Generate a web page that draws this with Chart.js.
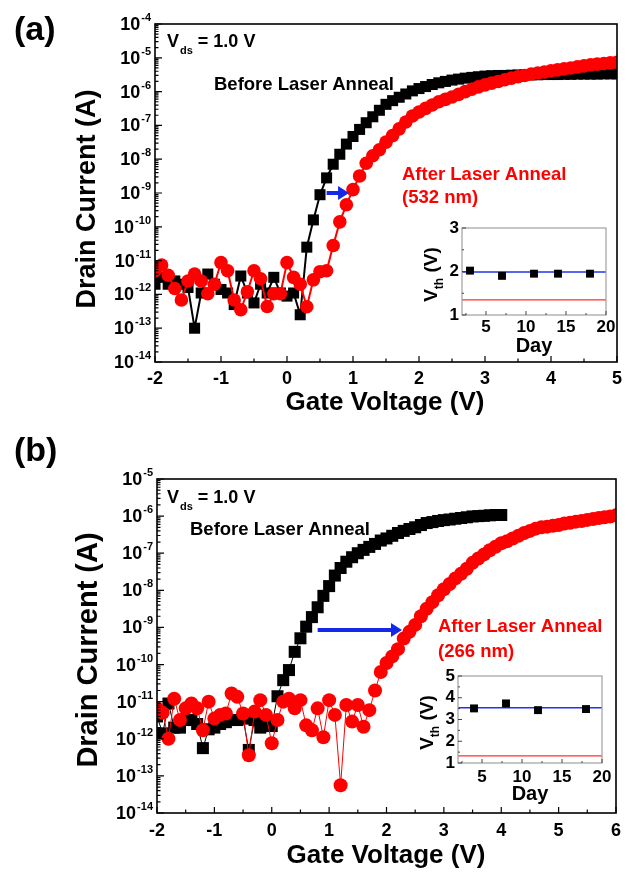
<!DOCTYPE html>
<html>
<head>
<meta charset="utf-8">
<title>Drain current vs gate voltage</title>
<script src="https://cdn.jsdelivr.net/npm/chart.js@4.4.1/dist/chart.umd.min.js"></script>
<style>
  body { margin: 0; background: #fff; }
  #page { position: relative; width: 631px; height: 872px; overflow: hidden; background: #fff; }
  canvas { position: absolute; }
</style>
</head>
<body>
<div id="page">
  <canvas id="mainA" width="631" height="420" style="left:0px;top:0px"></canvas>
  <canvas id="insetA" width="200" height="150" style="left:420px;top:215px"></canvas>
  <canvas id="mainB" width="631" height="452" style="left:0px;top:420px"></canvas>
  <canvas id="insetB" width="200" height="160" style="left:418px;top:664px"></canvas>
</div>
<script>
// ---- panel (a): 532 nm ----
const vgA = [-2, -1.9, -1.8, -1.7, -1.6, -1.5, -1.4, -1.3, -1.2, -1.1, -1, -0.9, -0.8, -0.7, -0.6, -0.5, -0.4, -0.3, -0.2, -0.1,
  0, 0.1, 0.2, 0.3, 0.4, 0.5, 0.6, 0.7, 0.8, 0.9, 1, 1.1, 1.2, 1.3, 1.4, 1.5, 1.6, 1.7, 1.8, 1.9,
  2, 2.1, 2.2, 2.3, 2.4, 2.5, 2.6, 2.7, 2.8, 2.9, 3, 3.1, 3.2, 3.3, 3.4, 3.5, 3.6, 3.7, 3.8, 3.9,
  4, 4.1, 4.2, 4.3, 4.4, 4.5, 4.6, 4.7, 4.8, 4.9, 5];
const beforeA = [2.0e-12, 3.2e-12, 2.0e-12, 2.5e-12, 2.0e-12, 1.6e-12, 1.0e-13, 1.1e-12, 4.0e-12, 2.0e-12,
  1.4e-12, 1.1e-12, 5.0e-13, 3.5e-12, 1.1e-12, 5.6e-13, 2.0e-12, 1.1e-12, 3.2e-12, 1.1e-12,
  8.9e-13, 1.1e-12, 2.5e-13, 2.5e-11, 1.6e-10, 8.9e-10, 2.8e-9, 7.1e-9, 1.4e-8, 2.8e-8,
  4.7e-8, 7.6e-8, 1.2e-7, 1.8e-7, 2.8e-7, 4.2e-7, 5.4e-7, 6.8e-7, 8.5e-7, 1.05e-6,
  1.23e-6, 1.41e-6, 1.62e-6, 1.82e-6, 2.0e-6, 2.19e-6, 2.34e-6, 2.5e-6, 2.63e-6, 2.75e-6,
  2.88e-6, 2.95e-6, 3.0e-6, 3.0e-6, 3.05e-6, 3.1e-6, 3.1e-6, 3.15e-6, 3.15e-6, 3.2e-6,
  3.2e-6, 3.2e-6, 3.25e-6, 3.25e-6, 3.3e-6, 3.3e-6, 3.3e-6, 3.3e-6, 3.35e-6, 3.35e-6, 3.35e-6];
const afterA = [5.0e-12, 7.4e-12, 3.7e-12, 1.5e-12, 6.8e-13, 2.5e-12, 4.0e-12, 2.5e-12, 1.05e-12, 2.0e-12,
  8.7e-12, 5.0e-12, 6.8e-13, 3.5e-13, 1.2e-12, 5.0e-12, 2.9e-12, 4.4e-13, 1.05e-12, 1.05e-12,
  8.7e-12, 3.2e-12, 2.0e-12, 4.3e-13, 2.7e-12, 4.7e-12, 5.0e-12, 2.8e-11, 1.4e-10, 4.5e-10,
  1.26e-9, 3.2e-9, 7.6e-9, 1.26e-8, 1.9e-8, 3.2e-8, 5.0e-8, 7.9e-8, 1.26e-7, 1.9e-7,
  2.5e-7, 3.2e-7, 4.0e-7, 5.0e-7, 5.9e-7, 6.9e-7, 8.3e-7, 1.0e-6, 1.17e-6, 1.38e-6,
  1.58e-6, 1.78e-6, 2.0e-6, 2.24e-6, 2.5e-6, 2.75e-6, 3.0e-6, 3.3e-6, 3.55e-6, 3.8e-6,
  4.1e-6, 4.4e-6, 4.7e-6, 5.0e-6, 5.4e-6, 5.75e-6, 6.2e-6, 6.5e-6, 6.8e-6, 7.1e-6, 7.4e-6];
const xTicksA = [-2, -1, 0, 1, 2, 3, 4, 5];
const yTicksA = [1e-14, 1e-13, 1e-12, 1e-11, 1e-10, 1e-9, 1e-8, 1e-7, 1e-6, 1e-5, 1e-4];

// inset (a): threshold voltage vs day
const daysA = [3, 7, 11, 14, 18];
const vthA = [2.02, 1.9, 1.95, 1.95, 1.95];
const vthLinesA = [1.99, 1.35]; // blue, red
const dayTicks = [5, 10, 15, 20];
const vthTicksA = [1, 2, 3];

// ---- panel (b): 266 nm ----
const vgB = [-2, -1.9, -1.8, -1.7, -1.6, -1.5, -1.4, -1.3, -1.2, -1.1, -1, -0.9, -0.8, -0.7, -0.6, -0.5, -0.4, -0.3, -0.2, -0.1,
  0, 0.1, 0.2, 0.3, 0.4, 0.5, 0.6, 0.7, 0.8, 0.9, 1, 1.1, 1.2, 1.3, 1.4, 1.5, 1.6, 1.7, 1.8, 1.9,
  2, 2.1, 2.2, 2.3, 2.4, 2.5, 2.6, 2.7, 2.8, 2.9, 3, 3.1, 3.2, 3.3, 3.4, 3.5, 3.6, 3.7, 3.8, 3.9,
  4, 4.1, 4.2, 4.3, 4.4, 4.5, 4.6, 4.7, 4.8, 4.9, 5, 5.1, 5.2, 5.3, 5.4, 5.5, 5.6, 5.7, 5.8, 5.9, 6];
const beforeB = [4.0e-12, 1.4e-12, 8.9e-12, 2.0e-12, 2.0e-12, 3.2e-12, 3.2e-12, 2.5e-12, 5.6e-13, 1.8e-12,
  2.0e-12, 2.5e-12, 2.8e-12, 3.2e-12, 3.2e-12, 3.5e-12, 5.0e-13, 3.2e-12, 2.0e-12, 2.5e-12,
  2.2e-12, 1.4e-11, 3.8e-11, 7.1e-11, 2.2e-10, 5.1e-10, 1.05e-9, 1.9e-9, 3.5e-9, 7.1e-9,
  1.3e-8, 2.5e-8, 4.0e-8, 5.9e-8, 7.8e-8, 1.0e-7, 1.23e-7, 1.48e-7, 1.78e-7, 2.2e-7,
  2.5e-7, 2.95e-7, 3.5e-7, 4.0e-7, 4.5e-7, 5.0e-7, 5.75e-7, 6.5e-7, 6.9e-7, 7.4e-7,
  7.8e-7, 8.1e-7, 8.5e-7, 8.9e-7, 9.3e-7, 9.8e-7, 1.0e-6, 1.02e-6, 1.05e-6, 1.07e-6, 1.07e-6];
const afterB = [6.6e-12, 5.0e-12, 1.0e-12, 1.2e-11, 3.2e-12, 6.6e-12, 8.9e-12, 6.6e-12, 1.7e-12, 1.0e-11,
  3.5e-12, 4.4e-12, 4.8e-12, 1.66e-11, 1.35e-11, 4.8e-12, 3.6e-13, 5.4e-12, 1.1e-11, 4.4e-12,
  7.6e-13, 3.2e-12, 1.0e-11, 1.2e-11, 6.6e-12, 1.1e-11, 2.3e-12, 1.7e-12, 6.6e-12, 1.1e-12,
  1.1e-11, 4.4e-12, 5.6e-14, 8.1e-12, 2.9e-12, 8.1e-12, 2.1e-12, 5.9e-12, 2.0e-11, 6.3e-11,
  1.1e-10, 1.66e-10, 2.6e-10, 5.0e-10, 7.6e-10, 1.17e-9, 2.0e-9, 3.2e-9, 4.8e-9, 7.4e-9,
  1.07e-8, 1.48e-8, 2.1e-8, 2.8e-8, 3.8e-8, 5.5e-8, 7.2e-8, 9.3e-8, 1.2e-7, 1.5e-7,
  1.86e-7, 2.1e-7, 2.5e-7, 2.95e-7, 3.5e-7, 4.0e-7, 4.6e-7, 5.0e-7, 5.2e-7, 5.5e-7,
  5.75e-7, 6.3e-7, 6.6e-7, 7.1e-7, 7.4e-7, 7.9e-7, 8.3e-7, 8.9e-7, 9.3e-7, 9.8e-7, 1.05e-6];
const xTicksB = [-2, -1, 0, 1, 2, 3, 4, 5, 6];
const yTicksB = [1e-14, 1e-13, 1e-12, 1e-11, 1e-10, 1e-9, 1e-8, 1e-7, 1e-6, 1e-5];

// inset (b)
const daysB = [4, 8, 12, 18];
const vthB = [3.51, 3.74, 3.43, 3.48];
const vthLinesB = [3.54, 1.33];
const vthTicksB = [1, 2, 3, 4, 5];


const FONT = '"Liberation Sans", Arial, Helvetica, sans-serif';
function f(size) {
  return 'bold ' + size + 'px ' + FONT;
}

function pts(xs, ys) {
  return ys.map((v, i) => ({ x: xs[i], y: v }));
}

// "10" with a raised exponent, right aligned at `right`
function drawPow10(ctx, right, py, exp) {
  ctx.font = f(18);
  let w1 = ctx.measureText('10').width;
  ctx.font = f(11);
  let w2 = ctx.measureText(exp).width;
  let x0 = right - w1 - w2 - 1;
  ctx.textAlign = 'left';
  ctx.textBaseline = 'middle';
  ctx.font = f(18);
  ctx.fillText('10', x0, py + 1);
  ctx.font = f(11);
  ctx.fillText(exp, x0 + w1 + 1, py - 6);
}

function drawSub(ctx, x, base, big, small, main, sub, rest, gap) {
  ctx.textAlign = 'left';
  ctx.textBaseline = 'alphabetic';
  ctx.font = f(big);
  ctx.fillText(main, x, base);
  let w = ctx.measureText(main).width;
  ctx.font = f(small);
  ctx.fillText(sub, x + w + 1, base + 7);
  let ws = ctx.measureText(sub).width;
  ctx.font = f(big);
  ctx.fillText(rest, x + w + 1 + ws + gap, base);
}

function decorMain(opt) {
  return {
    id: 'decorMain',
    afterDatasetsDraw(chart) {
      let { ctx, chartArea: a, scales: { x, y } } = chart;
      ctx.save();

      // blue shift arrow
      let ax0 = x.getPixelForValue(opt.arrow[0]);
      let ax1 = x.getPixelForValue(opt.arrow[1]);
      let ay = y.getPixelForValue(opt.arrow[2]);
      ctx.strokeStyle = '#1428e6';
      ctx.fillStyle = '#1428e6';
      ctx.lineWidth = 4;
      ctx.beginPath();
      ctx.moveTo(ax0, ay);
      ctx.lineTo(ax1 - 9, ay);
      ctx.stroke();
      ctx.beginPath();
      ctx.moveTo(ax1, ay);
      ctx.lineTo(ax1 - 11, ay - 7);
      ctx.lineTo(ax1 - 11, ay + 7);
      ctx.closePath();
      ctx.fill();

      // frame
      ctx.strokeStyle = '#000';
      ctx.lineWidth = 1.6;
      ctx.strokeRect(a.left, a.top, a.right - a.left, a.bottom - a.top);

      // inward ticks
      ctx.lineWidth = 1.2;
      ctx.beginPath();
      opt.yTicks.forEach((v, i) => {
        let py = y.getPixelForValue(v);
        ctx.moveTo(a.left, py);
        ctx.lineTo(a.left + 7, py);
        if (i < opt.yTicks.length - 1) {
          for (let m = 2; m < 10; m++) {
            let pm = y.getPixelForValue(v * m);
            ctx.moveTo(a.left, pm);
            ctx.lineTo(a.left + 3.5, pm);
          }
        }
      });
      opt.xTicks.forEach((v, i) => {
        let px = x.getPixelForValue(v);
        ctx.moveTo(px, a.bottom);
        ctx.lineTo(px, a.bottom - 6);
        if (i < opt.xTicks.length - 1) {
          let ph = x.getPixelForValue(v + 0.5);
          ctx.moveTo(ph, a.bottom);
          ctx.lineTo(ph, a.bottom - 3.5);
        }
      });
      ctx.stroke();

      // tick labels
      ctx.fillStyle = '#000';
      opt.yTicks.forEach(v => {
        drawPow10(ctx, a.left - 4, y.getPixelForValue(v), String(Math.round(Math.log10(v))));
      });
      ctx.font = f(18);
      ctx.textAlign = 'center';
      ctx.textBaseline = 'middle';
      opt.xTicks.forEach(v => {
        ctx.fillText(String(v), x.getPixelForValue(v), a.bottom + opt.xLabGap);
      });

      // axis titles
      ctx.font = f(26);
      ctx.fillText('Gate Voltage (V)', opt.xTitle[0], opt.xTitle[1]);
      ctx.save();
      ctx.translate(opt.yTitle[0], opt.yTitle[1]);
      ctx.rotate(-Math.PI / 2);
      ctx.font = f(opt.yTitle[2]);
      ctx.fillText('Drain Current (A)', 0, 0);
      ctx.restore();

      // panel letter
      ctx.textAlign = 'left';
      ctx.font = f(34);
      ctx.fillText(opt.letter[0], 14, opt.letter[1]);

      // Vds note
      drawSub(ctx, opt.vds[0], opt.vds[1], 18, 11, 'V', 'ds', '= 1.0 V', 5);

      // curve labels
      ctx.textBaseline = 'middle';
      ctx.font = f(18.5);
      opt.labels.forEach(l => {
        ctx.fillStyle = l[3];
        ctx.fillText(l[0], l[1], l[2]);
      });
      ctx.restore();
    }
  };
}

function mainChart(id, opt) {
  return new Chart(document.getElementById(id), {
    type: 'scatter',
    data: {
      datasets: [
        {
          data: pts(opt.vgAfter, opt.after), showLine: true, tension: 0,
          borderColor: '#ff0000', backgroundColor: '#ff0000', borderWidth: opt.redLine,
          pointStyle: 'circle', pointRadius: opt.dot, pointBorderWidth: 0
        },
        {
          data: pts(opt.vgBefore, opt.before), showLine: true, tension: 0,
          borderColor: '#000000', backgroundColor: '#000000', borderWidth: opt.blackLine,
          pointStyle: 'rect', pointRadius: opt.sq, pointBorderWidth: 0
        }
      ]
    },
    options: {
      responsive: false,
      animation: false,
      events: [],
      layout: { padding: opt.pad },
      plugins: { legend: { display: false }, tooltip: { enabled: false } },
      scales: {
        x: { type: 'linear', min: opt.xTicks[0], max: opt.xTicks[opt.xTicks.length - 1], display: false },
        y: { type: 'logarithmic', min: opt.yTicks[0], max: opt.yTicks[opt.yTicks.length - 1], display: false }
      }
    },
    plugins: [decorMain(opt)]
  });
}

function decorInset(opt) {
  return {
    id: 'decorInset',
    afterDatasetsDraw(chart) {
      let { ctx, chartArea: a, scales: { x, y } } = chart;
      ctx.save();
      ctx.strokeStyle = '#a0a0a0';
      ctx.lineWidth = 1.2;
      ctx.strokeRect(a.left, a.top, a.right - a.left, a.bottom - a.top);

      ctx.strokeStyle = '#444';
      ctx.lineWidth = 1;
      ctx.beginPath();
      opt.yTicks.forEach((v, i) => {
        let py = y.getPixelForValue(v);
        ctx.moveTo(a.left, py);
        ctx.lineTo(a.left + 4, py);
        if (i < opt.yTicks.length - 1) {
          let ph = y.getPixelForValue(v + 0.5);
          ctx.moveTo(a.left, ph);
          ctx.lineTo(a.left + 2, ph);
        }
      });
      opt.xTicks.forEach(v => {
        let px = x.getPixelForValue(v);
        ctx.moveTo(px, a.bottom);
        ctx.lineTo(px, a.bottom - 4);
        let ph = x.getPixelForValue(v - 2.5);
        ctx.moveTo(ph, a.bottom);
        ctx.lineTo(ph, a.bottom - 2);
      });
      ctx.stroke();

      ctx.fillStyle = '#000';
      ctx.font = f(17);
      ctx.textAlign = 'right';
      ctx.textBaseline = 'middle';
      opt.yTicks.forEach(v => ctx.fillText(String(v), a.left - 3, y.getPixelForValue(v)));
      ctx.textAlign = 'center';
      opt.xTicks.forEach(v => ctx.fillText(String(v), x.getPixelForValue(v), a.bottom + opt.xLabGap));
      ctx.font = f(20);
      ctx.fillText('Day', (a.left + a.right) / 2, a.bottom + 31);

      // V_th (V), rotated
      ctx.save();
      ctx.translate(a.left - 32, (a.top + a.bottom) / 2 + 3);
      ctx.rotate(-Math.PI / 2);
      ctx.font = f(19);
      let wV = ctx.measureText('V').width;
      let wR = ctx.measureText(' (V)').width;
      ctx.font = f(12);
      let wS = ctx.measureText('th').width;
      let x0 = -(wV + wS + wR) / 2;
      ctx.textAlign = 'left';
      ctx.textBaseline = 'alphabetic';
      ctx.font = f(19);
      ctx.fillText('V', x0, 7);
      ctx.font = f(12);
      ctx.fillText('th', x0 + wV, 13);
      ctx.font = f(19);
      ctx.fillText(' (V)', x0 + wV + wS, 7);
      ctx.restore();
      ctx.restore();
    }
  };
}

function insetChart(id, opt) {
  let xMin = 2, xMax = 20;
  return new Chart(document.getElementById(id), {
    type: 'scatter',
    data: {
      datasets: [
        {
          data: pts(opt.days, opt.vth), showLine: false,
          backgroundColor: '#000', borderColor: '#000',
          pointStyle: 'rect', pointRadius: 5.6, pointBorderWidth: 0
        },
        {
          data: [{ x: xMin, y: opt.lines[0] }, { x: xMax, y: opt.lines[0] }], showLine: true,
          borderColor: '#2233ee', borderWidth: 1.5, pointRadius: 0
        },
        {
          data: [{ x: xMin, y: opt.lines[1] }, { x: xMax, y: opt.lines[1] }], showLine: true,
          borderColor: '#ff3030', borderWidth: 1.3, pointRadius: 0
        }
      ]
    },
    options: {
      responsive: false,
      animation: false,
      events: [],
      layout: { padding: opt.pad },
      plugins: { legend: { display: false }, tooltip: { enabled: false } },
      scales: {
        x: { type: 'linear', min: xMin, max: xMax, display: false },
        y: { type: 'linear', min: opt.yTicks[0], max: opt.yTicks[opt.yTicks.length - 1], display: false }
      }
    },
    plugins: [decorInset(opt)]
  });
}

mainChart('mainA', {
  vgAfter: vgA, after: afterA, vgBefore: vgA, before: beforeA,
  xTicks: xTicksA, yTicks: yTicksA,
  pad: { left: 155, right: 14, top: 24, bottom: 58 },
  redLine: 2, blackLine: 2, dot: 6.8, sq: 7.8,
  arrow: [0.6, 0.94, 1e-9],
  xLabGap: 17, xTitle: [385, 403], yTitle: [88, 199, 27],
  letter: ['(a)', 31], vds: [167, 47],
  labels: [
    ['Before Laser Anneal', 214, 85, '#000'],
    ['After Laser Anneal', 402, 175, '#ff0000'],
    ['(532 nm)', 402, 198, '#ff0000']
  ]
});

insetChart('insetA', {
  days: daysA, vth: vthA, lines: vthLinesA,
  xTicks: dayTicks, yTicks: vthTicksA,
  pad: { left: 42, right: 14, top: 13, bottom: 50 },
  xLabGap: 12
});

mainChart('mainB', {
  vgAfter: vgB, after: afterB, vgBefore: vgB.slice(0, beforeB.length), before: beforeB,
  xTicks: xTicksB, yTicks: yTicksB,
  pad: { left: 157, right: 15, top: 59, bottom: 59 },
  redLine: 1, blackLine: 1, dot: 7, sq: 8.5,
  arrow: [0.8, 2.27, 8.5e-10],
  xLabGap: 18, xTitle: [386, 436], yTitle: [89, 230, 29],
  letter: ['(b)', 32], vds: [167, 83],
  labels: [
    ['Before Laser Anneal', 190, 110, '#000'],
    ['After Laser Anneal', 438, 207, '#ff0000'],
    ['(266 nm)', 438, 232, '#ff0000']
  ]
});

insetChart('insetB', {
  days: daysB, vth: vthB, lines: vthLinesB,
  xTicks: dayTicks, yTicks: vthTicksB,
  pad: { left: 40, right: 16, top: 12, bottom: 61 },
  xLabGap: 14
});
</script>
</body>
</html>
